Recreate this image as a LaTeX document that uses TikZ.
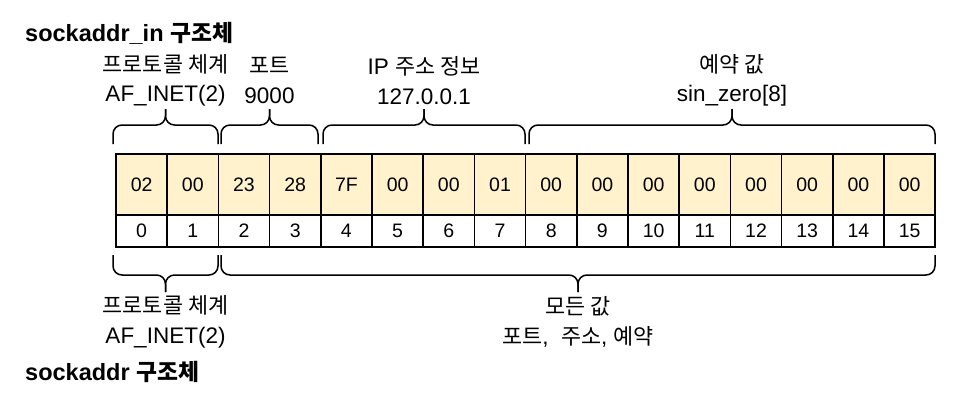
\documentclass[tikz,border=0pt]{standalone}
\usepackage{fontspec}
\setmainfont{Liberation Sans}
\newfontfamily\kr{Noto Sans CJK KR}[Scale=0.97]

\definecolor{cellfill}{HTML}{FFF2CC}

\tikzset{
  byte/.style={draw, line width=1.5pt, fill=cellfill, minimum width=51.2pt,
    minimum height=61pt, inner sep=0pt, font=\fontsize{19.5}{20}\selectfont},
  offset/.style={draw, line width=1.5pt, fill=white, minimum width=51.2pt,
    minimum height=32pt, inner sep=0pt, font=\fontsize{19.5}{20}\selectfont},
  fieldtext/.style={align=center, inner sep=0pt, font=\fontsize{22.5}{29.5}\selectfont},
  title/.style={anchor=west, inner sep=0pt, font=\fontsize{23.5}{26}\selectfont\bfseries},
  bracelines/.style={line width=1.5pt, rounded corners=9pt},
}

% brace from x #1 to x #2: ends at y #3, bar at y #4, tip at y #5
\newcommand{\fieldbrace}[5]{%
  \draw[bracelines] (#1,#3) |- ({(#1+#2)/2},#4) -- ({(#1+#2)/2},#5);
  \draw[bracelines] ({(#1+#2)/2},#5) -- ({(#1+#2)/2},#4) -| (#2,#3);
}

\begin{document}
\begin{tikzpicture}[x=1pt, y=-1pt]
    \useasboundingbox (0,0) rectangle (954,410);

    % Titles
    \node[title] (inname) at (25,33) {sockaddr\_in {\kr 구조체}};
    \node[title] (name) at (25,372) {sockaddr {\kr 구조체}};

    % The byte cells and their offsets
    \foreach \v [count=\i from 0] in {02,00,23,28,7F,00,00,01,00,00,00,00,00,00,00,00} {
        \node[byte] (c\i) at (141.6+51.2*\i,184.5) {\v};
        \node[offset] (n\i) at (141.6+51.2*\i,231) {\i};
    }

    % Braces over the sockaddr_in fields
    \fieldbrace{113}{218}{144}{125}{109}
    \fieldbrace{221}{318}{144}{125}{109}
    \fieldbrace{323}{525}{144}{125}{109}
    \fieldbrace{529}{935}{144}{125}{109}

    % Braces under the sockaddr fields
    \fieldbrace{113}{218}{255}{275}{292}
    \fieldbrace{221}{935}{255}{275}{292}

    % Add the field labels
    \node[fieldtext] (family) at (165.5,80.5) {{\kr 프로토콜 체계}\\AF\_INET(2)};
    \node[fieldtext] (port) at (269.5,80.5) {{\kr 포트}\\9000};
    \node[fieldtext] (addr) at (424,80.5) {IP {\kr 주소 정보}\\127.0.0.1};
    \node[fieldtext] (zero) at (732,80.5) {{\kr 예약 값}\\sin\_zero[8]};
    \node[fieldtext] (safamily) at (165.5,322) {{\kr 프로토콜 체계}\\AF\_INET(2)};
    \node[fieldtext] (sadata) at (578,322) {{\kr 모든 값}\\{\kr 포트},\ \ {\kr 주소}, {\kr 예약}};
\end{tikzpicture}
\end{document}
